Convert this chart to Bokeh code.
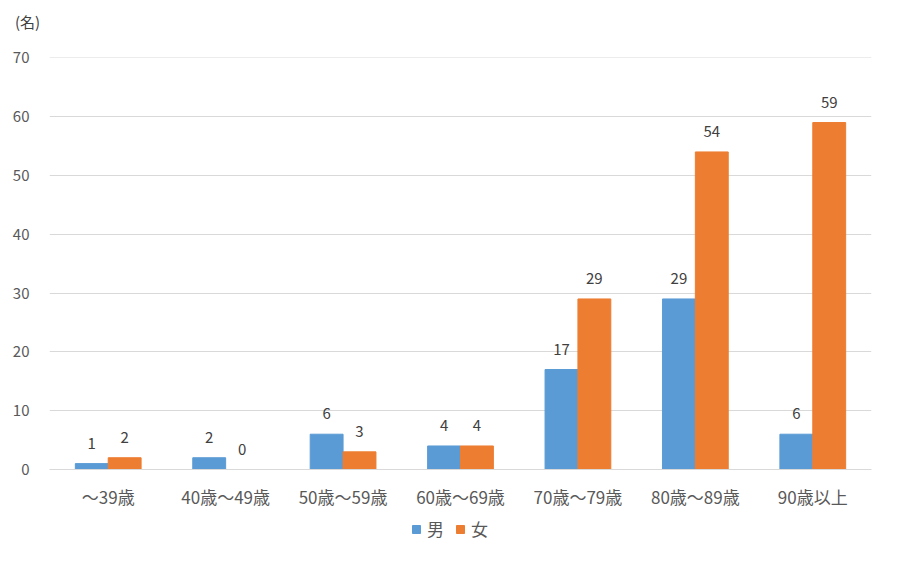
from bokeh.plotting import figure
from bokeh.models import ColumnDataSource, Legend, LegendItem, FactorRange, Range1d, Div
from bokeh.layouts import column
from bokeh.core.properties import value
from bokeh.transform import dodge
from bokeh.embed import file_html
from bokeh.resources import INLINE

categories = ["～39歳", "40歳～49歳", "50歳～59歳", "60歳～69歳", "70歳～79歳", "80歳～89歳", "90歳以上"]
male = [1, 2, 6, 4, 17, 29, 6]
female = [2, 0, 3, 4, 29, 54, 59]
y_ticks = [0, 10, 20, 30, 40, 50, 60, 70]
series_names = ["男", "女"]
unit_label = "(名)"

FONT = "Noto Sans CJK JP"
BLUE = "#5B9BD5"
ORANGE = "#ED7D31"
W = 884

src = ColumnDataSource(dict(
    cat=categories, male=male, female=female,
    male_txt=[str(v) for v in male], female_txt=[str(v) for v in female],
))

# unit label on top
top = Div(text=unit_label, width=W, height=45, margin=0,
          styles={"font-family": FONT, "font-size": "15px", "color": "#404040",
                  "padding-left": "15px", "line-height": "44px", "white-space": "nowrap"})

# main chart
p = figure(x_range=FactorRange(*categories), y_range=Range1d(0, 70.06),
           width=W, height=470, output_backend="svg", toolbar_location=None,
           min_border_left=49, min_border_right=13, min_border_top=12, min_border_bottom=46)
p.outline_line_color = None
p.background_fill_color = "white"

bw = 0.28
p.vbar(x=dodge("cat", -bw / 2, range=p.x_range), top="male", width=bw, source=src,
       fill_color=BLUE, line_color=BLUE)
p.vbar(x=dodge("cat", bw / 2, range=p.x_range), top="female", width=bw, source=src,
       fill_color=ORANGE, line_color=ORANGE)

p.text(x=dodge("cat", -bw / 2, range=p.x_range), y="male", text="male_txt", source=src,
       text_align="center", text_baseline="bottom", y_offset=-15,
       text_font=value(FONT), text_font_size="15px", text_color="#404040")
p.text(x=dodge("cat", bw / 2, range=p.x_range), y="female", text="female_txt", source=src,
       text_align="center", text_baseline="bottom", y_offset=-15,
       text_font=value(FONT), text_font_size="15px", text_color="#404040")

p.yaxis.ticker = y_ticks
p.yaxis.axis_line_color = None
p.yaxis.major_tick_line_color = None
p.yaxis.minor_tick_line_color = None
p.yaxis.major_label_text_font = FONT
p.yaxis.major_label_text_font_size = "15px"
p.yaxis.major_label_text_color = "#595959"
p.yaxis.major_label_standoff = 14

p.xaxis.axis_line_color = "#d9d9d9"
p.xaxis.major_tick_line_color = None
p.xaxis.minor_tick_line_color = None
p.xaxis.major_label_text_font = FONT
p.xaxis.major_label_text_font_size = "17px"
p.xaxis.major_label_text_color = "#595959"
p.xaxis.major_label_standoff = 8

p.xgrid.grid_line_color = None
p.ygrid.grid_line_color = "#d9d9d9"

# legend strip below the chart (its bars lie outside its visible range)
lg = figure(width=W, height=35, output_backend="svg", toolbar_location=None,
            x_range=FactorRange(*categories), y_range=Range1d(1000, 1001),
            x_axis_location=None, y_axis_location=None,
            min_border_left=0, min_border_right=0, min_border_top=0, min_border_bottom=0)
lg.grid.visible = False
lg.outline_line_color = None
lm = lg.vbar(x="cat", top="male", width=0.1, source=src, fill_color=BLUE, line_color=BLUE)
lf = lg.vbar(x="cat", top="female", width=0.1, source=src, fill_color=ORANGE, line_color=ORANGE)
legend = Legend(items=[LegendItem(label=series_names[0], renderers=[lm]),
                       LegendItem(label=series_names[1], renderers=[lf])],
                orientation="horizontal", location=(362, 9),
                border_line_color=None, background_fill_alpha=0,
                label_text_font=FONT, label_text_font_size="17px", label_text_color="#595959",
                glyph_width=10, glyph_height=10, spacing=8, label_standoff=6,
                margin=0, padding=4)
lg.add_layout(legend, "center")

layout = column(top, p, lg, spacing=0)
open("out.html", "w").write(file_html(layout, INLINE))
